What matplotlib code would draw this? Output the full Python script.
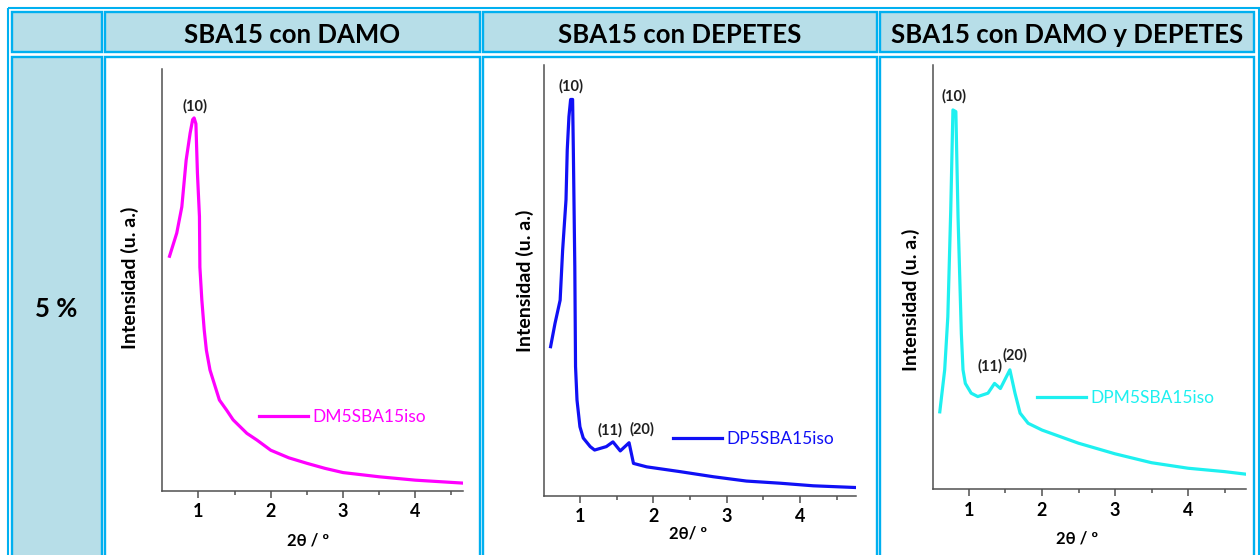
import matplotlib
matplotlib.use("Agg")
import matplotlib.pyplot as plt
from matplotlib.patches import Rectangle
from matplotlib.ticker import FixedLocator

plt.rcParams['font.family'] = ['Lato', 'DejaVu Sans']

#   Textos de la tabla
encabezados = ["SBA15 con DAMO", "SBA15 con DEPETES", "SBA15 con DAMO y DEPETES"]
fila = "5 %"
nombres = ["DM5SBA15iso", "DP5SBA15iso", "DPM5SBA15iso"]
colores = ["#FF00FF", "#1010F5", "#1EF0F0"]
etiquetas_x = ["2θ / º", "2θ/ º", "2θ / º"]
etiqueta_y = "Intensidad (u. a.)"
ticks_x = [1, 2, 3, 4]

#   Difractogramas (2theta, intensidad relativa)
x_dm = [0.60, 0.70, 0.77, 0.83, 0.885, 0.92, 0.94, 0.965, 0.986, 1.014, 1.02, 1.047,
        1.08, 1.11, 1.16, 1.29, 1.39, 1.48, 1.67, 1.81, 2.0, 2.25, 2.5, 2.75, 3.0,
        3.5, 4.0, 4.66]
y_dm = [55.6, 61.1, 67.3, 78.4, 84.8, 88.0, 88.4, 87.0, 75.3, 65.0, 53.0, 45.2,
        38.1, 33.3, 28.6, 21.5, 19.1, 16.8, 13.6, 12.0, 9.6, 7.8, 6.5, 5.3, 4.3,
        3.3, 2.5, 1.8]
picos_dm = [("(10)", 0.94)]

x_dp = [0.60, 0.66, 0.73, 0.764, 0.81, 0.827, 0.85, 0.873, 0.90, 0.91, 0.93, 0.94, 0.96,
        1.00, 1.045, 1.14, 1.20, 1.36, 1.45, 1.55, 1.67, 1.73, 1.91, 2.36, 2.82, 3.27,
        3.73, 4.18, 4.76]
y_dp = [34.6, 40.0, 45.4, 57.0, 68.7, 80.3, 88.0, 92.0, 92.0, 80.3, 53.2, 30.0, 22.2,
        16.0, 13.4, 11.4, 10.6, 11.4, 12.5, 10.4, 12.3, 7.5, 6.7, 5.6, 4.4, 3.4,
        2.9, 2.3, 1.9]
picos_dp = [("(10)", 0.873), ("(11)", 1.45), ("(20)", 1.67)]

x_dpm = [0.60, 0.667, 0.71, 0.75, 0.78, 0.82, 0.85, 0.895, 0.918, 0.95, 1.03, 1.12, 1.26,
         1.35, 1.43, 1.56, 1.63, 1.70, 1.81, 2.0, 2.5, 3.0, 3.5, 4.0, 4.5, 4.79]
y_dpm = [18.2, 28.1, 40.6, 65.8, 89.4, 89.0, 64.2, 36.7, 28.1, 24.9, 22.6, 21.8, 22.6,
         24.9, 23.7, 28.1, 22.6, 17.9, 15.5, 13.9, 10.8, 8.3, 6.2, 4.9, 4.1, 3.5]
picos_dpm = [("(10)", 0.78), ("(11)", 1.35), ("(20)", 1.56)]

series = [(x_dm, y_dm, picos_dm), (x_dp, y_dp, picos_dp), (x_dpm, y_dpm, picos_dpm)]

#   Geometria en pixeles (izq, arriba, der, abajo)
W, H = 1260, 555
cajas = [(162.3, 69, 463, 490.7), (544, 65, 855.7, 495.7), (933, 65, 1245.7, 489)]
limites_x = [(0.5, 4.66), (0.51, 4.76), (0.507, 4.79)]
pos_leyenda = [(0.323, 0.174), (0.414, 0.131), (0.334, 0.214)]
pos_ylabel = [(-0.107, 0.504), (-0.061, 0.50), (-0.070, 0.446)]
pos_xlabel = [(0.485, -0.119), (0.462, -0.087), (0.461, -0.116)]
desfase_picos = [[(0.7, 8.6)], [(0, 9.6), (-2.4, 8.4), (9.6, 9.9)],
                 [(0.7, 9.6), (-3.5, 12), (3.9, 10.8)]]

borde = "#00B0F0"
relleno = "#B7DEE8"

fig = plt.figure(figsize=(W / 100, H / 100), dpi=100)
fondo = fig.add_axes([0, 0, 1, 1])
fondo.set_xlim(0, W)
fondo.set_ylim(H, 0)
fondo.axis("off")

#   Tabla: borde exterior y celdas con borde doble
fondo.add_patch(Rectangle((8.3, 8.3), 1250.2, 600, fill=False, ec=borde, lw=1.5))
columnas = [(11.7, 101.7), (105, 479.8), (483.3, 876.7), (880, 1254.3)]
filas = [(12.3, 52.5), (56.8, 600)]
for i, (y0, y1) in enumerate(filas):
    for j, (x0, x1) in enumerate(columnas):
        color = relleno if (i == 0 or j == 0) else "white"
        fondo.add_patch(Rectangle((x0, y0), x1 - x0, y1 - y0, fc=color, ec=borde, lw=1.7))

for j, texto in enumerate(encabezados):
    x0, x1 = columnas[j + 1]
    fondo.text((x0 + x1) / 2, 43.3, texto, ha="center", va="baseline",
               fontsize=18.5, fontweight="bold", color="black")
fondo.text(56, 316.7, fila, ha="center", va="baseline", fontsize=18.5,
           fontweight="bold", color="black")

#   Difractogramas
for k, (xs, ys, picos) in enumerate(series):
    l, t, r, b = cajas[k]
    ax = fig.add_axes([l / W, 1 - b / H, (r - l) / W, (b - t) / H])
    ax.patch.set_alpha(0)
    ax.plot(xs, ys, color=colores[k], lw=2.3, label=nombres[k])
    ax.set_xlim(*limites_x[k])
    ax.set_ylim(0, 100)
    for s in ["top", "right"]:
        ax.spines[s].set_visible(False)
    for s in ["left", "bottom"]:
        ax.spines[s].set_color("#505050")
        ax.spines[s].set_linewidth(1.1)
    ax.set_yticks([])
    ax.set_xticks(ticks_x)
    ax.xaxis.set_minor_locator(FixedLocator([1.5, 2.5, 3.5, 4.5]))
    ax.tick_params(axis="x", which="major", length=5, width=1.1, color="#505050",
                   pad=4, labelsize=13)
    ax.tick_params(axis="x", which="minor", length=3, width=1.1, color="#505050")
    for lab in ax.get_xticklabels():
        lab.set_fontweight("bold")

    ax.text(*pos_ylabel[k], etiqueta_y, transform=ax.transAxes, rotation=90,
            ha="center", va="center", fontsize=14, fontweight="bold")
    ax.text(*pos_xlabel[k], etiquetas_x[k], transform=ax.transAxes,
            ha="center", va="center", fontsize=12, fontweight="bold")

    for (nombre, xp), (dx, dy) in zip(picos, desfase_picos[k]):
        idx = xs.index(xp)
        ax.annotate(nombre, (xs[idx], ys[idx]), xytext=(dx, dy), textcoords="offset points",
                    ha="center", va="center", fontsize=10.5, fontweight="bold", color="#202020")

    ax.legend(loc="center left", bbox_to_anchor=pos_leyenda[k], frameon=False,
              borderpad=0, borderaxespad=0, handlelength=2.8, handletextpad=0.25,
              labelcolor="linecolor", prop={"size": 12.5})

fig.savefig("out.png", dpi=100)
